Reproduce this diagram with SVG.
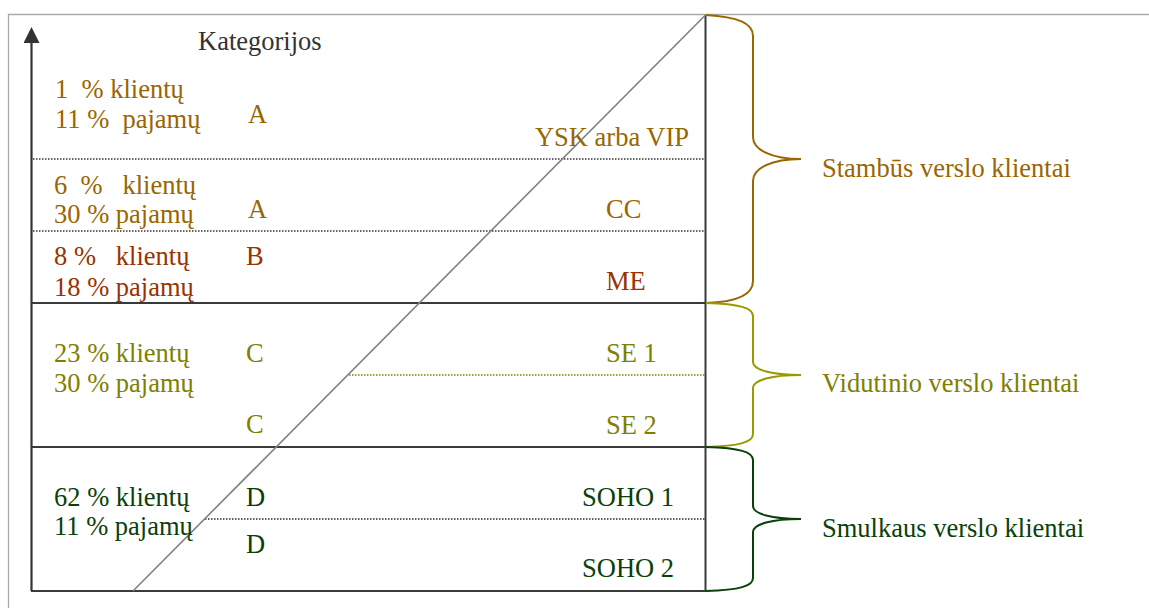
<svg xmlns="http://www.w3.org/2000/svg" width="1149" height="608" viewBox="0 0 1149 608">
  <style>
    text { font-family: "Liberation Serif", "Times New Roman", serif; font-size: 26.5px; }
    .gold { fill: #996600; }
    .rust { fill: #993300; }
    .olive { fill: #808000; }
    .green { fill: #0a400a; }
    .dark { fill: #333333; }
    .frame { stroke: #aaaaaa; stroke-width: 1.3; fill: none; }
    .solid { stroke: #3a3a3a; stroke-width: 2; fill: none; }
    .dots { stroke-width: 1.5; stroke-dasharray: 1.5 1.5; fill: none; }
    .brace { fill: none; stroke-width: 2; }
  </style>
  <defs>
    <marker id="arrow" viewBox="0 0 16 16" refX="2" refY="8" markerWidth="16" markerHeight="16" markerUnits="userSpaceOnUse" orient="auto">
      <path d="M0,0 L16,8 L0,16 Z" fill="#333333"/>
    </marker>
  </defs>
  <rect width="1149" height="608" fill="#ffffff"/>

  <!-- outer frame -->
  <path class="frame" d="M8.5,608 L8.5,14.5 L1149,14.5"/>

  <!-- chart grid -->
  <g id="connectors">
    <!-- vertical axis -->
    <line x1="31.5" y1="591" x2="31.5" y2="41" stroke="#333333" stroke-width="2.2" marker-end="url(#arrow)"/>
    <!-- right edge and bottom -->
    <path class="solid" d="M705.5,15 L705.5,591 L31,591"/>
    <!-- segment separators -->
    <line class="solid" x1="31" y1="303" x2="706" y2="303"/>
    <line class="solid" x1="31" y1="447" x2="706" y2="447"/>
    <!-- sub-segment separators -->
    <line class="dots" stroke="#333333" x1="33" y1="159" x2="705" y2="159"/>
    <line class="dots" stroke="#333333" x1="33" y1="231" x2="705" y2="231"/>
    <line class="dots" stroke="#808000" x1="349" y1="375" x2="705" y2="375"/>
    <line class="dots" stroke="#1a3a1a" x1="205" y1="519" x2="705" y2="519"/>
    <!-- diagonal -->
    <line x1="705.5" y1="15" x2="133" y2="591" stroke="#808080" stroke-width="1.6"/>
    <!-- braces -->
    <path class="brace" stroke="#996600" d="M706,15 C738,17 753,23 753,36 L753,137 C753,150 772,159 801,159 C772,159 753,168 753,181 L753,281 C753,294 738,302 706,303"/>
    <path class="brace" stroke="#999900" d="M706,303 C740,304 753,308 753,316 L753,362 C753,370 772,375 801,375 C772,375 753,380 753,388 L753,434 C753,442 740,446 706,447"/>
    <path class="brace" stroke="#0a400a" d="M706,447 C740,448 753,452 753,460 L753,506 C753,514 772,519 801,519 C772,519 753,524 753,532 L753,578 C753,586 740,590 706,591"/>
  </g>

  <g id="title">
    <text class="dark" x="198" y="50">Kategorijos</text>
  </g>

  <g id="vip">
    <text class="gold" x="55" y="98" xml:space="preserve">1  % klientų</text>
    <text class="gold" x="55" y="128" xml:space="preserve">11 %  pajamų</text>
    <text class="gold" x="248" y="123">A</text>
    <text class="gold" x="689" y="146" text-anchor="end">YSK arba VIP</text>
  </g>

  <g id="cc">
    <text class="gold" x="54" y="194" xml:space="preserve">6  %   klientų</text>
    <text class="gold" x="54" y="223">30 % pajamų</text>
    <text class="gold" x="248" y="218">A</text>
    <text class="gold" x="606" y="218">CC</text>
  </g>

  <g id="me">
    <text class="rust" x="54" y="265" xml:space="preserve">8 %   klientų</text>
    <text class="rust" x="54" y="296">18 % pajamų</text>
    <text class="rust" x="246" y="265">B</text>
    <text class="rust" x="606" y="290">ME</text>
  </g>

  <g id="se">
    <text class="olive" x="54" y="362">23 % klientų</text>
    <text class="olive" x="54" y="392">30 % pajamų</text>
    <text class="olive" x="246" y="362">C</text>
    <text class="olive" x="246" y="433">C</text>
    <text class="olive" x="606" y="362">SE 1</text>
    <text class="olive" x="606" y="434">SE 2</text>
  </g>

  <g id="soho">
    <text class="green" x="54" y="506">62 % klientų</text>
    <text class="green" x="54" y="535">11 % pajamų</text>
    <text class="green" x="246" y="506">D</text>
    <text class="green" x="246" y="553">D</text>
    <text class="green" x="582" y="506">SOHO 1</text>
    <text class="green" x="582" y="577">SOHO 2</text>
  </g>

  <g id="groups">
    <text class="gold" x="822" y="177">Stambūs verslo klientai</text>
    <text class="olive" x="822" y="392">Vidutinio verslo klientai</text>
    <text class="green" x="822" y="537">Smulkaus verslo klientai</text>
  </g>
</svg>
